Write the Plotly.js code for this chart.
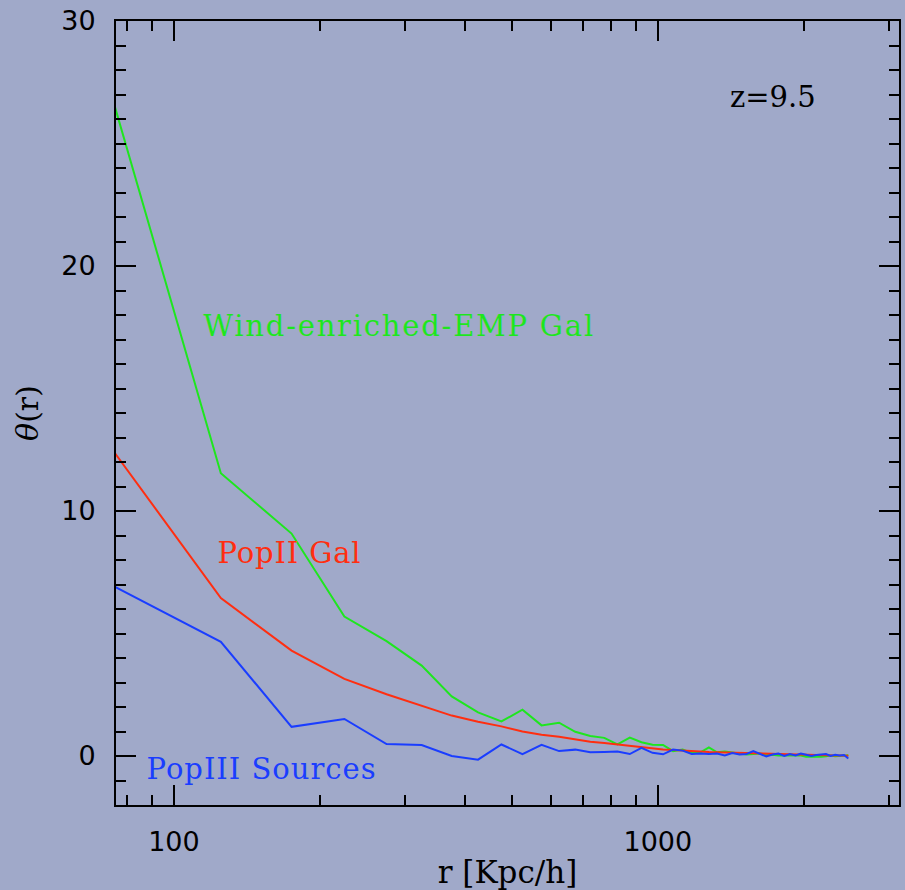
<!DOCTYPE html>
<html>
<head>
<meta charset="utf-8">
<script src="https://cdn.plot.ly/plotly-3.0.1.min.js"></script>
<style>
  html, body { margin: 0; padding: 0; background: #a0a9c9; }
  #chart { width: 905px; height: 890px; }
</style>
</head>
<body>
<div id="chart"></div>
<script>
// Radial bins r [Kpc/h]
const radius = [75, 125, 175, 225, 275, 325, 375, 425, 475, 525, 575, 625, 675, 725, 775, 825, 875, 925, 975,
  1025, 1075, 1125, 1175, 1225, 1275, 1325, 1375, 1425, 1475, 1525, 1575, 1625, 1675, 1725, 1775, 1825,
  1875, 1925, 1975, 2025, 2075, 2125, 2175, 2225, 2275, 2325, 2375, 2425, 2475];

const windEMP = [26.7, 11.54, 9.08, 5.69, 4.69, 3.69, 2.43, 1.78, 1.41, 1.89, 1.25, 1.36, 0.99, 0.82, 0.74, 0.47, 0.75, 0.56, 0.46,
  0.45, 0.20, 0.26, 0.12, 0.15, 0.35, 0.15, 0.18, 0.15, 0.10, 0.06, 0.08, 0.10, 0.04, 0.05, 0.02, 0.04,
  0.03, 0.02, 0.02, -0.03, -0.04, -0.04, -0.03, -0.01, 0.02, -0.01, 0.00, 0.02, 0.03];

const popII = [12.44, 6.45, 4.30, 3.15, 2.52, 2.06, 1.65, 1.40, 1.21, 1.00, 0.87, 0.79, 0.67, 0.58, 0.53, 0.47, 0.41, 0.35, 0.31,
  0.27, 0.25, 0.22, 0.19, 0.17, 0.16, 0.15, 0.14, 0.13, 0.12, 0.11, 0.10, 0.09, 0.08, 0.08, 0.07, 0.06,
  0.06, 0.05, 0.05, 0.04, 0.04, 0.03, 0.03, 0.03, 0.02, 0.02, 0.02, 0.01, 0.01];

const popIII = [6.94, 4.66, 1.19, 1.51, 0.49, 0.45, 0.00, -0.15, 0.47, 0.08, 0.46, 0.20, 0.26, 0.15, 0.16, 0.18, 0.08, 0.33, 0.13,
  0.07, 0.26, 0.22, 0.08, 0.10, 0.08, 0.10, 0.02, 0.12, 0.06, 0.08, 0.20, 0.10, -0.02, 0.06, 0.10, 0.00,
  0.08, 0.02, 0.10, 0.05, 0.00, 0.04, 0.06, 0.08, 0.00, 0.05, 0.02, 0.04, -0.10];

const xMajor = [100, 1000];
const xMajorText = ['100', '1000'];
const xMinor = [80, 90, 200, 300, 400, 500, 600, 700, 800, 900, 2000, 3000];
const yMajor = [0, 10, 20, 30];
const yMajorText = ['0', '10', '20', '30'];

const labels = [
  {text: 'Wind-enriched-EMP Gal', r: 291, v: 17.56, color: '#1ee61e', width: 390},
  {text: 'PopII Gal', r: 172.5, v: 8.27, color: '#ff2e10', width: 143},
  {text: 'PopIII Sources', r: 151, v: -0.52, color: '#1a3dff', width: 229},
  {text: 'z=9.5', r: 1733, v: 26.88, color: '#000000', width: 85}
];

const lineStyle = (c) => ({color: c, width: 2});
const traces = [
  {x: radius, y: windEMP, mode: 'lines', line: lineStyle('#1ee61e'), name: 'Wind-enriched-EMP Gal'},
  {x: radius, y: popII, mode: 'lines', line: lineStyle('#ff2e10'), name: 'PopII Gal'},
  {x: radius, y: popIII, mode: 'lines', line: lineStyle('#1a3dff'), name: 'PopIII Sources'}
];

const axisCommon = {
  showline: true, linecolor: '#000', linewidth: 2, mirror: 'ticks',
  ticks: 'inside', tickcolor: '#000', tickwidth: 2, ticklen: 20,
  showgrid: false, zeroline: false,
  tickfont: {family: 'DejaVu Sans', size: 27, color: '#000'}
};

const layout = {
  width: 905, height: 890,
  margin: {l: 116, r: 6, t: 21, b: 85},
  paper_bgcolor: '#a0a9c9', plot_bgcolor: '#a0a9c9',
  showlegend: false,
  xaxis: Object.assign({}, axisCommon, {
    type: 'log', range: [Math.log10(75.9), Math.log10(3150)],
    tickmode: 'array', tickvals: xMajor, ticktext: xMajorText,
    minor: {tickmode: 'array', tickvals: xMinor, ticks: 'inside', ticklen: 10, tickwidth: 2, tickcolor: '#000'},
    ticklabelstandoff: 12,
    title: {text: 'r [Kpc/h]', font: {family: 'DejaVu Serif', size: 31, color: '#000'}, standoff: 8}
  }),
  yaxis: Object.assign({}, axisCommon, {
    range: [-2, 30],
    tickmode: 'array', tickvals: yMajor, ticktext: yMajorText,
    minor: {dtick: 1, ticks: 'inside', ticklen: 10, tickwidth: 2, tickcolor: '#000'},
    ticklabelstandoff: 13,
    title: {text: '<i>θ</i>(r)', font: {family: 'DejaVu Serif', size: 30, color: '#000'}, standoff: 14}
  }),
  annotations: labels.map(a => ({
    x: Math.log10(a.r), y: a.v, xref: 'x', yref: 'y', text: a.text, showarrow: false,
    xanchor: 'center', yanchor: 'middle',
    font: {family: 'DejaVu Serif', size: 29, color: a.color}
  }))
};

Plotly.newPlot('chart', traces, layout, {displayModeBar: false, staticPlot: true}).then(() => {
  const nodes = document.querySelectorAll('#chart .annotation-text');
  nodes.forEach((node, i) => {
    const target = labels[i] && labels[i].width;
    if (!target) return;
    const natural = node.getComputedTextLength();
    const n = labels[i].text.length;
    const ls = (target - natural) / Math.max(1, n - 1);
    if (ls > 0) {
      node.style.letterSpacing = ls.toFixed(2) + 'px';
      const tx = parseFloat(node.getAttribute('x') || '0');
      node.setAttribute('x', (tx + ls / 2).toFixed(2));
    }
  });
});
</script>
</body>
</html>
